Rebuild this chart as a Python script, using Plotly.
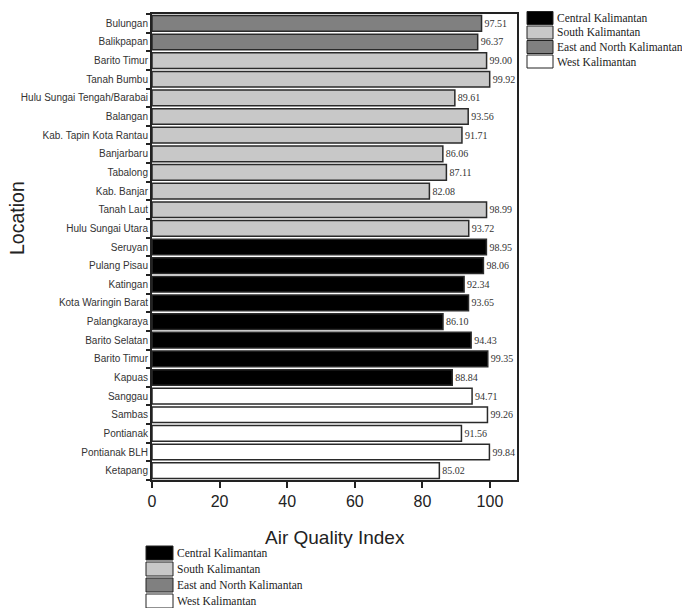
import plotly.graph_objects as go

locations = ["Bulungan", "Balikpapan", "Barito Timur", "Tanah Bumbu",
             "Hulu Sungai Tengah/Barabai", "Balangan", "Kab. Tapin Kota Rantau",
             "Banjarbaru", "Tabalong", "Kab. Banjar", "Tanah Laut",
             "Hulu Sungai Utara", "Seruyan", "Pulang Pisau", "Katingan",
             "Kota Waringin Barat", "Palangkaraya", "Barito Selatan",
             "Barito Timur", "Kapuas", "Sanggau", "Sambas", "Pontianak",
             "Pontianak BLH", "Ketapang"]
aqi = [97.51, 96.37, 99.00, 99.92, 89.61, 93.56, 91.71, 86.06, 87.11, 82.08,
       98.99, 93.72, 98.95, 98.06, 92.34, 93.65, 86.10, 94.43, 99.35, 88.84,
       94.71, 99.26, 91.56, 99.84, 85.02]
region = ["East and North Kalimantan"] * 2 + ["South Kalimantan"] * 10 + \
         ["Central Kalimantan"] * 8 + ["West Kalimantan"] * 5

groups = ["Central Kalimantan", "South Kalimantan",
          "East and North Kalimantan", "West Kalimantan"]
colors = {"Central Kalimantan": "#000000", "South Kalimantan": "#c8c8c8",
          "East and North Kalimantan": "#808080", "West Kalimantan": "#ffffff"}

x_ticks = [0, 20, 40, 60, 80, 100]
x_title = "Air Quality Index"
y_title = "Location"

fig = go.Figure()
for g in groups:
    idx = [i for i, r in enumerate(region) if r == g]
    fig.add_trace(go.Bar(
        x=[aqi[i] for i in idx], y=idx, orientation="h", name=g,
        width=0.84,
        marker=dict(color=colors[g], line=dict(color="#2a2a2a", width=1.5)),
        texttemplate="%{x:.2f}", textposition="outside", cliponaxis=False,
        textfont=dict(family="Liberation Serif", size=10, color="#333333"),
        showlegend=False, hoverinfo="skip"))

W, H = 682, 608
L, R, T, B = 152, 165, 14, 128
pw, ph = W - L - R, H - T - B
def px(x):
    return (x - L) / pw
def py(y):
    return (H - B - y) / ph

# legend swatches (two copies, as in the reference)
def add_legend(x0, y0, dy, sw, sh, fs):
    for k, g in enumerate(groups):
        yy = y0 - k * dy
        fig.add_shape(type="rect", xref="paper", yref="paper",
                      x0=x0, x1=x0 + sw, y0=yy - sh / 2, y1=yy + sh / 2,
                      fillcolor=colors[g], line=dict(color="#222222", width=1))
        fig.add_annotation(xref="paper", yref="paper", x=x0 + sw + 2 / pw, y=yy,
                           text=g, showarrow=False, xanchor="left", yanchor="middle",
                           font=dict(family="Liberation Serif", size=fs, color="#222222"))

add_legend(px(527), py(18), 14.5 / ph, 26 / pw, 13 / ph, 11.5)
add_legend(px(146), py(553), 16 / ph, 27 / pw, 14 / ph, 11.5)

# axis titles
fig.add_annotation(xref="paper", yref="paper", x=px(334.5), y=py(537),
                   text=x_title, showarrow=False, xanchor="center", yanchor="middle",
                   font=dict(family="Liberation Sans", size=19, color="#222"))
fig.add_annotation(xref="paper", yref="paper", x=px(17), y=py(218),
                   text=y_title, showarrow=False, textangle=-90,
                   xanchor="center", yanchor="middle",
                   font=dict(family="Liberation Sans", size=19.5, color="#222"))

fig.update_layout(
    width=W, height=H,
    margin=dict(l=L, r=R, t=T, b=B, pad=0),
    plot_bgcolor="white", paper_bgcolor="white",
    bargap=0.16,
    xaxis=dict(range=[0, 108], tickvals=x_ticks, ticks="outside", ticklen=6,
               tickwidth=1.5, tickcolor="#222", showgrid=False, zeroline=False,
               showline=True, linecolor="#222", linewidth=2, mirror=True,
               automargin=False,
               tickfont=dict(family="Liberation Sans", size=16, color="#222")),
    yaxis=dict(range=[len(locations) - 0.5, -0.5],
               tickvals=list(range(len(locations))), ticktext=locations,
               ticks="", showgrid=False, zeroline=False, automargin=False,
               minor=dict(tick0=0.5, dtick=1, ticks="outside", ticklen=4,
                          tickwidth=1.5, tickcolor="#222", showgrid=False),
               showline=True, linecolor="#222", linewidth=2, mirror=True,
               tickfont=dict(family="Liberation Sans", size=10, color="#333")),
)

fig.write_html("out.html", config={"displayModeBar": False},
               post_script="document.body.style.margin='0px';document.body.style.overflow='hidden';")
